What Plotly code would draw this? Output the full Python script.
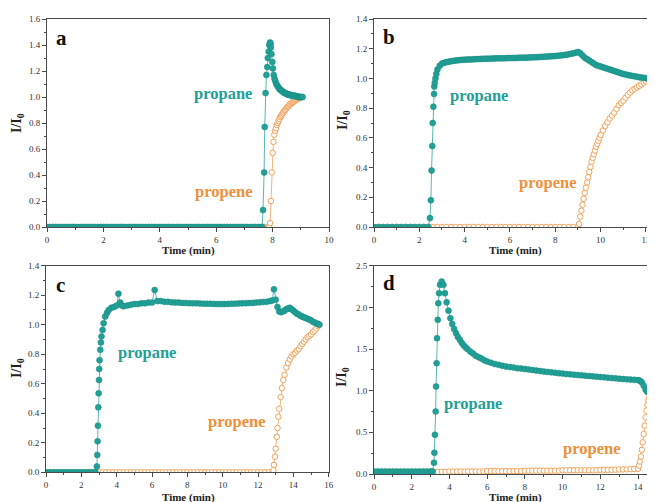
import plotly.graph_objects as go

# ---------------- DATA ----------------
# Panel a
a_propane_t = [
    0.0, 0.1, 0.2, 0.3, 0.4, 0.5, 0.6, 0.7, 0.8, 0.9,
    1.0, 1.1, 1.2, 1.3, 1.4, 1.5, 1.6, 1.7, 1.8, 1.9,
    2.0, 2.1, 2.2, 2.3, 2.4, 2.5, 2.6, 2.7, 2.8, 2.9,
    3.0, 3.1, 3.2, 3.3, 3.4, 3.5, 3.6, 3.7, 3.8, 3.9,
    4.0, 4.1, 4.2, 4.3, 4.4, 4.5, 4.6, 4.7, 4.8, 4.9,
    5.0, 5.1, 5.2, 5.3, 5.4, 5.5, 5.6, 5.7, 5.8, 5.9,
    6.0, 6.1, 6.2, 6.3, 6.4, 6.5, 6.6, 6.7, 6.8, 6.9,
    7.0, 7.1, 7.2, 7.3, 7.4, 7.5, 7.6, 7.63, 7.66, 7.70,
    7.72, 7.75, 7.78, 7.81, 7.83, 7.86, 7.88, 7.91, 7.93, 7.94,
    7.96, 7.99, 8.01, 8.04, 8.07, 8.10, 8.13, 8.16, 8.19, 8.22,
    8.25, 8.28, 8.31, 8.34, 8.37, 8.40, 8.43, 8.46, 8.49, 8.52,
    8.55, 8.58, 8.61, 8.64, 8.67, 8.70, 8.73, 8.76, 8.79, 8.82,
    8.85, 8.88, 8.91, 8.94, 8.97, 9.00, 9.03, 9.06,
]
a_propane_y = [
    0, 0, 0, 0, 0, 0, 0, 0, 0, 0,
    0, 0, 0, 0, 0, 0, 0, 0, 0, 0,
    0, 0, 0, 0, 0, 0, 0, 0, 0, 0,
    0, 0, 0, 0, 0, 0, 0, 0, 0, 0,
    0, 0, 0, 0, 0, 0, 0, 0, 0, 0,
    0, 0, 0, 0, 0, 0, 0, 0, 0, 0,
    0, 0, 0, 0, 0, 0, 0, 0, 0, 0,
    0, 0, 0, 0, 0, 0, 0, 0, 0.13, 0.42,
    0.77, 1.03, 1.17, 1.23, 1.30, 1.35, 1.40, 1.42, 1.41, 1.38,
    1.33, 1.27, 1.22, 1.17, 1.14, 1.12, 1.10, 1.09, 1.08, 1.07,
    1.06, 1.055, 1.05, 1.045, 1.04, 1.035, 1.03, 1.03, 1.025, 1.02,
    1.02, 1.02, 1.015, 1.015, 1.01, 1.01, 1.01, 1.01, 1.01, 1.005,
    1.005, 1.005, 1.0, 1.0, 1.0, 1.0, 1.0, 1.0,
]
a_propene_t = [
    0.0, 0.1, 0.2, 0.3, 0.4, 0.5, 0.6, 0.7, 0.8, 0.9,
    1.0, 1.1, 1.2, 1.3, 1.4, 1.5, 1.6, 1.7, 1.8, 1.9,
    2.0, 2.1, 2.2, 2.3, 2.4, 2.5, 2.6, 2.7, 2.8, 2.9,
    3.0, 3.1, 3.2, 3.3, 3.4, 3.5, 3.6, 3.7, 3.8, 3.9,
    4.0, 4.1, 4.2, 4.3, 4.4, 4.5, 4.6, 4.7, 4.8, 4.9,
    5.0, 5.1, 5.2, 5.3, 5.4, 5.5, 5.6, 5.7, 5.8, 5.9,
    6.0, 6.1, 6.2, 6.3, 6.4, 6.5, 6.6, 6.7, 6.8, 6.9,
    7.0, 7.1, 7.2, 7.3, 7.4, 7.5, 7.6, 7.7, 7.8, 7.85,
    7.88, 7.91, 7.94, 7.97, 8.00, 8.03, 8.06, 8.09, 8.12, 8.15,
    8.18, 8.21, 8.24, 8.27, 8.30, 8.33, 8.36, 8.39, 8.42, 8.45,
    8.48, 8.51, 8.54, 8.57, 8.60, 8.63, 8.66, 8.69, 8.72, 8.75,
    8.78, 8.81, 8.84, 8.87, 8.90, 8.93, 8.96, 8.99, 9.02, 9.06,
]
a_propene_y = [
    0, 0, 0, 0, 0, 0, 0, 0, 0, 0,
    0, 0, 0, 0, 0, 0, 0, 0, 0, 0,
    0, 0, 0, 0, 0, 0, 0, 0, 0, 0,
    0, 0, 0, 0, 0, 0, 0, 0, 0, 0,
    0, 0, 0, 0, 0, 0, 0, 0, 0, 0,
    0, 0, 0, 0, 0, 0, 0, 0, 0, 0,
    0, 0, 0, 0, 0, 0, 0, 0, 0, 0,
    0, 0, 0, 0, 0, 0, 0, 0, 0, 0,
    0, 0.03, 0.20, 0.42, 0.57, 0.655, 0.71, 0.74, 0.76, 0.785,
    0.80, 0.815, 0.83, 0.845, 0.855, 0.865, 0.875, 0.885, 0.895, 0.90,
    0.91, 0.92, 0.925, 0.93, 0.94, 0.945, 0.95, 0.955, 0.96, 0.965,
    0.97, 0.975, 0.98, 0.983, 0.987, 0.99, 0.993, 0.996, 0.998, 1.0,
]

# Panel b
b_propane_t = [
    0.0, 0.2, 0.4, 0.6, 0.8, 1.0, 1.2, 1.4, 1.6, 1.8,
    2.0, 2.2, 2.4, 2.47, 2.51, 2.54, 2.57, 2.59, 2.62, 2.65,
    2.66, 2.68, 2.71, 2.75, 2.8, 2.9, 3.0, 3.1, 3.2, 3.3,
    3.4, 3.5, 3.6, 3.7, 3.8, 3.9, 4.0, 4.1, 4.2, 4.3,
    4.4, 4.5, 4.6, 4.7, 4.8, 4.9, 5.0, 5.1, 5.2, 5.3,
    5.4, 5.5, 5.6, 5.7, 5.8, 5.9, 6.0, 6.1, 6.2, 6.3,
    6.4, 6.5, 6.6, 6.7, 6.8, 6.9, 7.0, 7.1, 7.2, 7.3,
    7.4, 7.5, 7.6, 7.7, 7.8, 7.9, 8.0, 8.1, 8.2, 8.3,
    8.4, 8.5, 8.6, 8.7, 8.8, 8.9, 9.0, 9.1, 9.2, 9.3,
    9.4, 9.5, 9.6, 9.7, 9.8, 9.9, 10.0, 10.1, 10.2, 10.3,
    10.4, 10.5, 10.6, 10.7, 10.8, 10.9, 11.0, 11.1, 11.2, 11.3,
    11.4, 11.5, 11.6, 11.7, 11.8, 11.9, 12.0, 12.1, 12.2, 12.3,
    12.4,
]
b_propane_y = [
    0, 0, 0, 0, 0, 0, 0, 0, 0, 0,
    0, 0, 0, 0.06, 0.18, 0.38, 0.545, 0.70, 0.81, 0.895,
    0.945, 0.97, 1.0, 1.03, 1.06, 1.085, 1.10, 1.105, 1.11, 1.113,
    1.116, 1.118, 1.12, 1.122, 1.124, 1.125, 1.126, 1.127, 1.128, 1.128,
    1.129, 1.13, 1.13, 1.131, 1.132, 1.132, 1.133, 1.133, 1.134, 1.134,
    1.135, 1.135, 1.135, 1.136, 1.136, 1.137, 1.137, 1.137, 1.138, 1.138,
    1.139, 1.14, 1.14, 1.14, 1.141, 1.141, 1.142, 1.142, 1.143, 1.144,
    1.145, 1.146, 1.147, 1.148, 1.149, 1.15, 1.151, 1.152, 1.154, 1.156,
    1.158, 1.16, 1.163, 1.166, 1.169, 1.173, 1.178, 1.17, 1.155, 1.14,
    1.13, 1.12, 1.11, 1.10, 1.09, 1.085, 1.08, 1.075, 1.07, 1.065,
    1.06, 1.055, 1.05, 1.045, 1.04, 1.035, 1.03, 1.027, 1.023, 1.02,
    1.017, 1.014, 1.011, 1.008, 1.006, 1.004, 1.002, 1.0, 1.0, 0.998,
    0.996,
]
b_propene_t = [
    0.0, 0.2, 0.4, 0.6, 0.8, 1.0, 1.2, 1.4, 1.6, 1.8,
    2.0, 2.2, 2.4, 2.6, 2.8, 3.0, 3.2, 3.4, 3.6, 3.8,
    4.0, 4.2, 4.4, 4.6, 4.8, 5.0, 5.2, 5.4, 5.6, 5.8,
    6.0, 6.2, 6.4, 6.6, 6.8, 7.0, 7.2, 7.4, 7.6, 7.8,
    8.0, 8.2, 8.4, 8.6, 8.8, 9.0, 9.05, 9.1, 9.15, 9.2,
    9.25, 9.3, 9.35, 9.4, 9.45, 9.5, 9.55, 9.6, 9.65, 9.7,
    9.75, 9.8, 9.85, 9.9, 9.95, 10.0, 10.1, 10.2, 10.3, 10.4,
    10.5, 10.6, 10.7, 10.8, 10.9, 11.0, 11.1, 11.2, 11.3, 11.4,
    11.5, 11.6, 11.7, 11.8, 11.9, 12.0, 12.1, 12.2, 12.3, 12.4,
]
b_propene_y = [
    0, 0, 0, 0, 0, 0, 0, 0, 0, 0,
    0, 0, 0, 0, 0, 0, 0, 0, 0, 0,
    0, 0, 0, 0, 0, 0, 0, 0, 0, 0,
    0, 0, 0, 0, 0, 0, 0, 0, 0, 0,
    0, 0, 0, 0, 0, 0, 0.02, 0.07, 0.11, 0.15,
    0.19, 0.23, 0.265, 0.30, 0.335, 0.37, 0.405, 0.44, 0.465, 0.49,
    0.515, 0.54, 0.56, 0.58, 0.60, 0.62, 0.65, 0.68, 0.705, 0.73,
    0.75, 0.77, 0.795, 0.82, 0.835, 0.85, 0.87, 0.89, 0.905, 0.92,
    0.93, 0.94, 0.95, 0.96, 0.97, 0.98, 0.99, 1.0, 1.01, 1.02,
]

# Panel c
c_propane_t = [
    0.0, 0.2, 0.4, 0.6, 0.8, 1.0, 1.2, 1.4, 1.6, 1.8,
    2.0, 2.2, 2.4, 2.6, 2.8, 2.88, 2.9, 2.92, 2.94, 2.96,
    2.98, 3.0, 3.01, 3.03, 3.07, 3.11, 3.14, 3.2, 3.26, 3.35,
    3.45, 3.55, 3.7, 3.85, 4.0, 4.1, 4.2, 4.3, 4.4, 4.6,
    4.8, 5.0, 5.2, 5.4, 5.6, 5.8, 6.0, 6.15, 6.3, 6.5,
    6.7, 6.9, 7.1, 7.3, 7.5, 7.7, 7.9, 8.1, 8.3, 8.5,
    8.7, 8.9, 9.1, 9.3, 9.5, 9.7, 9.9, 10.1, 10.3, 10.5,
    10.7, 10.9, 11.1, 11.3, 11.5, 11.7, 11.9, 12.1, 12.3, 12.5,
    12.7, 12.8, 12.9, 13.0, 13.1, 13.2, 13.3, 13.4, 13.5, 13.6,
    13.7, 13.8, 13.9, 14.0, 14.1, 14.2, 14.3, 14.4, 14.5, 14.6,
    14.7, 14.8, 14.9, 15.0, 15.1, 15.2, 15.3, 15.4, 15.47,
]
c_propane_y = [
    0, 0, 0, 0, 0, 0, 0, 0, 0, 0,
    0, 0, 0, 0, 0, 0.04, 0.117, 0.21, 0.316, 0.44,
    0.535, 0.625, 0.70, 0.76, 0.83, 0.88, 0.92, 0.965, 1.01, 1.055,
    1.08, 1.10, 1.115, 1.12, 1.13, 1.21, 1.15, 1.13, 1.125, 1.13,
    1.135, 1.14, 1.14, 1.145, 1.145, 1.15, 1.15, 1.235, 1.16, 1.16,
    1.155, 1.155, 1.152, 1.15, 1.15, 1.148, 1.147, 1.146, 1.145, 1.145,
    1.144, 1.143, 1.142, 1.142, 1.141, 1.14, 1.14, 1.14, 1.141, 1.142,
    1.143, 1.144, 1.145, 1.146, 1.147, 1.148, 1.15, 1.152, 1.154, 1.156,
    1.16, 1.165, 1.24, 1.17, 1.12, 1.09, 1.085, 1.09, 1.095, 1.105,
    1.11, 1.115, 1.105, 1.095, 1.085, 1.075, 1.07, 1.06, 1.055, 1.05,
    1.045, 1.04, 1.035, 1.03, 1.02, 1.015, 1.01, 1.005, 1.0,
]
c_propene_t = [
    0.0, 0.2, 0.4, 0.6, 0.8, 1.0, 1.2, 1.4, 1.6, 1.8,
    2.0, 2.2, 2.4, 2.6, 2.8, 3.0, 3.2, 3.4, 3.6, 3.8,
    4.0, 4.2, 4.4, 4.6, 4.8, 5.0, 5.2, 5.4, 5.6, 5.8,
    6.0, 6.2, 6.4, 6.6, 6.8, 7.0, 7.2, 7.4, 7.6, 7.8,
    8.0, 8.2, 8.4, 8.6, 8.8, 9.0, 9.2, 9.4, 9.6, 9.8,
    10.0, 10.2, 10.4, 10.6, 10.8, 11.0, 11.2, 11.4, 11.6, 11.8,
    12.0, 12.2, 12.4, 12.6, 12.8, 12.87, 12.9, 12.96, 13.0, 13.06,
    13.1, 13.15, 13.2, 13.28, 13.35, 13.43, 13.5, 13.6, 13.7, 13.8,
    13.9, 14.0, 14.1, 14.2, 14.3, 14.4, 14.5, 14.6, 14.7, 14.8,
    14.9, 15.0, 15.1, 15.2, 15.3, 15.4, 15.47,
]
c_propene_y = [
    0, 0, 0, 0, 0, 0, 0, 0, 0, 0,
    0, 0, 0, 0, 0, 0, 0, 0, 0, 0,
    0, 0, 0, 0, 0, 0, 0, 0, 0, 0,
    0, 0, 0, 0, 0, 0, 0, 0, 0, 0,
    0, 0, 0, 0, 0, 0, 0, 0, 0, 0,
    0, 0, 0, 0, 0, 0, 0, 0, 0, 0,
    0, 0, 0, 0, 0, 0.015, 0.05, 0.106, 0.16, 0.24,
    0.30, 0.377, 0.43, 0.51, 0.57, 0.625, 0.66, 0.71, 0.74, 0.765,
    0.785, 0.80, 0.81, 0.825, 0.835, 0.855, 0.87, 0.885, 0.90, 0.915,
    0.925, 0.935, 0.95, 0.96, 0.975, 0.99, 1.0,
]

# Panel d
d_propane_t = [
    0.0, 0.2, 0.4, 0.6, 0.8, 1.0, 1.2, 1.4, 1.6, 1.8,
    2.0, 2.2, 2.4, 2.6, 2.8, 3.0, 3.1, 3.18, 3.2, 3.23,
    3.27, 3.29, 3.32, 3.34, 3.38, 3.41, 3.45, 3.5, 3.59, 3.68,
    3.76, 3.85, 3.95, 4.05, 4.15, 4.25, 4.35, 4.45, 4.55, 4.65,
    4.75, 4.85, 4.95, 5.1, 5.25, 5.4, 5.55, 5.7, 5.85, 6.0,
    6.2, 6.4, 6.6, 6.8, 7.0, 7.2, 7.4, 7.6, 7.8, 8.0,
    8.2, 8.4, 8.6, 8.8, 9.0, 9.2, 9.4, 9.6, 9.8, 10.0,
    10.2, 10.4, 10.6, 10.8, 11.0, 11.2, 11.4, 11.6, 11.8, 12.0,
    12.2, 12.4, 12.6, 12.8, 13.0, 13.2, 13.4, 13.6, 13.8, 14.0,
    14.1, 14.2, 14.3, 14.4, 14.5, 14.6, 14.7, 14.8, 14.9,
]
d_propane_y = [
    0.03, 0.03, 0.03, 0.03, 0.03, 0.03, 0.03, 0.03, 0.03, 0.03,
    0.03, 0.03, 0.03, 0.03, 0.03, 0.03, 0.03, 0.136, 0.256, 0.47,
    0.75, 1.05, 1.33, 1.63, 1.85, 2.05, 2.17, 2.27, 2.31, 2.27,
    2.17, 2.06, 1.96, 1.87, 1.80, 1.74, 1.69, 1.645, 1.61, 1.575,
    1.545, 1.52, 1.50, 1.47, 1.445, 1.42, 1.40, 1.385, 1.365, 1.35,
    1.335, 1.32, 1.31, 1.30, 1.29, 1.283, 1.277, 1.27, 1.265, 1.26,
    1.254, 1.248, 1.242, 1.236, 1.23, 1.225, 1.22, 1.215, 1.21, 1.205,
    1.2, 1.196, 1.192, 1.188, 1.184, 1.18, 1.176, 1.172, 1.168, 1.164,
    1.16, 1.156, 1.152, 1.148, 1.144, 1.14, 1.137, 1.133, 1.13, 1.127,
    1.12, 1.1, 1.06, 1.01, 0.985, 0.975, 0.98, 0.995, 1.0,
]
d_propene_t = [
    0.0, 0.2, 0.4, 0.6, 0.8, 1.0, 1.2, 1.4, 1.6, 1.8,
    2.0, 2.2, 2.4, 2.6, 2.8, 3.0, 3.2, 3.4, 3.6, 3.8,
    4.0, 4.2, 4.4, 4.6, 4.8, 5.0, 5.2, 5.4, 5.6, 5.8,
    6.0, 6.2, 6.4, 6.6, 6.8, 7.0, 7.2, 7.4, 7.6, 7.8,
    8.0, 8.2, 8.4, 8.6, 8.8, 9.0, 9.2, 9.4, 9.6, 9.8,
    10.0, 10.2, 10.4, 10.6, 10.8, 11.0, 11.2, 11.4, 11.6, 11.8,
    12.0, 12.2, 12.4, 12.6, 12.8, 13.0, 13.2, 13.4, 13.6, 13.8,
    14.0, 14.05, 14.1, 14.15, 14.2, 14.25, 14.3, 14.35, 14.4, 14.45,
    14.5, 14.55, 14.6, 14.65, 14.7, 14.75, 14.8, 14.85, 14.9,
]
d_propene_y = [
    0.025, 0.025, 0.025, 0.025, 0.025, 0.025, 0.025, 0.025, 0.025, 0.025,
    0.025, 0.025, 0.025, 0.025, 0.025, 0.025, 0.025, 0.025, 0.025, 0.025,
    0.03, 0.03, 0.03, 0.03, 0.03, 0.03, 0.03, 0.03, 0.03, 0.03,
    0.035, 0.035, 0.035, 0.035, 0.035, 0.035, 0.035, 0.035, 0.035, 0.035,
    0.04, 0.04, 0.04, 0.04, 0.04, 0.04, 0.04, 0.04, 0.04, 0.04,
    0.045, 0.045, 0.045, 0.045, 0.045, 0.045, 0.045, 0.045, 0.045, 0.045,
    0.05, 0.05, 0.05, 0.05, 0.052, 0.054, 0.055, 0.056, 0.058, 0.06,
    0.062, 0.10, 0.15, 0.21, 0.29, 0.38, 0.48, 0.58, 0.68, 0.76,
    0.83, 0.88, 0.92, 0.95, 0.97, 0.99, 1.0, 1.0, 1.0,
]

# Tick values / labels
x_ticks_a = [0, 2, 4, 6, 8, 10]
x_ticks_b = [0, 2, 4, 6, 8, 10, 12]
x_ticks_c = [0, 2, 4, 6, 8, 10, 12, 14, 16]
x_ticks_d = [0, 2, 4, 6, 8, 10, 12, 14]
y_ticks_a = [0.0, 0.2, 0.4, 0.6, 0.8, 1.0, 1.2, 1.4, 1.6]
y_ticks_bc = [0.0, 0.2, 0.4, 0.6, 0.8, 1.0, 1.2, 1.4]
y_ticks_d = [0.0, 0.5, 1.0, 1.5, 2.0, 2.5]
panel_letters = ["a", "b", "c", "d"]
series_names = ["propane", "propene"]
x_title = "Time (min)"
y_title = "<b>I/I<sub>0</sub></b>"

# ---------------- STYLE ----------------
# The page body has an 8 px margin, so the figure is 8 px smaller
# and all positions below (given in page pixels) are shifted by 8 px.
PAGE_W, PAGE_H = 655, 502
OFF = 8
W, H = PAGE_W - OFF, PAGE_H - OFF
TEAL = "#22a096"
TEAL_EDGE = "#178a80"
TEAL_LINE = "#58b9af"
ORANGE = "#f0903a"
ORANGE_EDGE = "#f1a35a"
ORANGE_LINE = "#f4b47a"
FONT = "Liberation Serif, Times New Roman, serif"


def px(x):
    return (x - OFF) / W


def py(y):
    return 1 - (y - OFF) / H


panels = [
    dict(pt=a_propane_t, pv=a_propane_y, et=a_propene_t, ev=a_propene_y,
         xr=[0, 10], yr=[0, 1.6], xt=x_ticks_a, yt=y_ticks_a, ydt=0.1,
         dom_x=[px(47), px(329)], dom_y=[py(227), py(19)], mirror_y=True,
         letter=(61, 38), ytitle=(17, 123), xtitle=(188, 250),
         lab_pa=(223, 93), lab_pe=(223, 191)),
    dict(pt=b_propane_t, pv=b_propane_y, et=b_propene_t, ev=b_propene_y,
         xr=[0, 12.4], yr=[0, 1.4], xt=x_ticks_b, yt=y_ticks_bc, ydt=0.1,
         dom_x=[px(374), 1.0], dom_y=[py(227), py(19)], mirror_y=False,
         letter=(389, 37), ytitle=(343, 120), xtitle=(515, 250),
         lab_pa=(479, 95), lab_pe=(547, 182)),
    dict(pt=c_propane_t, pv=c_propane_y, et=c_propene_t, ev=c_propene_y,
         xr=[0, 16], yr=[0, 1.4], xt=x_ticks_c, yt=y_ticks_bc, ydt=0.1,
         dom_x=[px(46), px(328.7)], dom_y=[py(472.3), py(265.7)], mirror_y=True,
         letter=(60, 285), ytitle=(17, 368), xtitle=(188, 497),
         lab_pa=(147, 352), lab_pe=(236, 421)),
    dict(pt=d_propane_t, pv=d_propane_y, et=d_propene_t, ev=d_propene_y,
         xr=[0, 14.9], yr=[0, 2.5], xt=x_ticks_d, yt=y_ticks_d, ydt=0.25,
         dom_x=[px(374), 1.0], dom_y=[py(474), py(265.7)], mirror_y=False,
         letter=(389, 283), ytitle=(342, 377), xtitle=(515, 497),
         lab_pa=(473, 403), lab_pe=(591, 448)),
]

fig = go.Figure()
annotations = []
layout_axes = {}


def ann(text, xy, size, color, angle=0):
    return dict(text=text, x=px(xy[0]), y=py(xy[1]), xref="paper", yref="paper",
                xanchor="center", yanchor="middle", showarrow=False,
                textangle=angle, font=dict(family=FONT, size=size, color=color))


for i, p in enumerate(panels):
    n = "" if i == 0 else str(i + 1)
    xa, ya = "x" + n, "y" + n
    # propene first (drawn underneath)
    fig.add_trace(go.Scatter(
        x=p["et"], y=p["ev"], xaxis=xa, yaxis=ya, mode="lines+markers",
        name=series_names[1], showlegend=False,
        line=dict(color=ORANGE_LINE, width=1),
        marker=dict(symbol="circle", size=5.5, color="white",
                    line=dict(color=ORANGE_EDGE, width=1)),
    ))
    fig.add_trace(go.Scatter(
        x=p["pt"], y=p["pv"], xaxis=xa, yaxis=ya, mode="lines+markers",
        name=series_names[0], showlegend=False,
        line=dict(color=TEAL_LINE, width=1),
        marker=dict(symbol="circle", size=6, color=TEAL,
                    line=dict(color=TEAL_EDGE, width=0.5)),
    ))
    tickfont = dict(family=FONT, size=9, color="#333333")
    layout_axes["xaxis" + n] = dict(
        domain=p["dom_x"], range=p["xr"], anchor=ya, automargin=False,
        showline=True, linecolor="#4a4a4a", linewidth=1, mirror=True,
        showgrid=False, zeroline=False,
        ticks="outside", ticklen=4, tickcolor="#4a4a4a", tickwidth=1,
        tickvals=p["xt"], ticktext=[str(v) for v in p["xt"]],
        tickfont=tickfont,
        minor=dict(dtick=1, ticklen=2, tickcolor="#4a4a4a", ticks="outside"),
    )
    layout_axes["yaxis" + n] = dict(
        domain=p["dom_y"], range=p["yr"], anchor=xa, automargin=False,
        showline=True, linecolor="#4a4a4a", linewidth=1, mirror=p["mirror_y"],
        showgrid=False, zeroline=False,
        ticks="outside", ticklen=4, tickcolor="#4a4a4a", tickwidth=1,
        tickvals=p["yt"], ticktext=["%.1f" % v for v in p["yt"]],
        tickfont=tickfont,
        minor=dict(dtick=p["ydt"], ticklen=2, tickcolor="#4a4a4a", ticks="outside"),
    )
    annotations.append(ann("<b>%s</b>" % panel_letters[i], p["letter"], 21, "#111111"))
    annotations.append(ann(y_title, p["ytitle"], 14, "#222222", angle=-90))
    annotations.append(ann("<b>%s</b>" % x_title, p["xtitle"], 11, "#222222"))
    annotations.append(ann("<b>%s</b>" % series_names[0], p["lab_pa"], 16.5, TEAL))
    annotations.append(ann("<b>%s</b>" % series_names[1], p["lab_pe"], 16.5, ORANGE))

fig.update_layout(
    width=W, height=H,
    margin=dict(l=0, r=0, t=0, b=0, autoexpand=False),
    paper_bgcolor="white", plot_bgcolor="white",
    showlegend=False,
    annotations=annotations,
    **layout_axes,
)

fig.write_html("out.html")
